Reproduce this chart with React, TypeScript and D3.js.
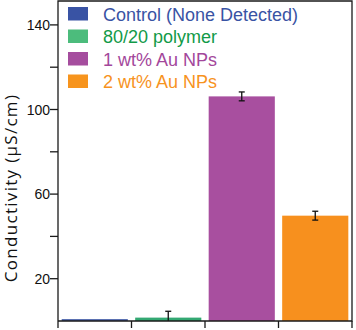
import React from 'react'
import * as d3 from 'd3'

const categories = ['Control (None Detected)', '80/20 polymer', '1 wt% Au NPs', '2 wt% Au NPs']
const values = [0.9, 1.6, 106.2, 49.8]
const errors = [0, 3.0, 2.1, 2.1]
const barColors = ['#4a63ab', '#33a872', '#a84f9f', '#f7901e']
const swatchColors = ['#3953a4', '#4cbc7c', '#a54d9e', '#f7941d']
const textColors = ['#3953a4', '#129a48', '#a3479b', '#f7931e']
const yTicks = [20, 40, 60, 80, 100, 120, 140]
const yLabels = [20, 60, 100, 140]

const W = 356
const H = 330
const margin = { left: 58, right: 4, top: 1, bottom: 9 }

export default function App() {
  const x = d3.scaleBand<string>()
    .domain(categories)
    .range([margin.left, W - margin.right])
    .paddingInner(0.1)
    .paddingOuter(0.05)

  const y = d3.scaleLinear()
    .domain([0, 151.3])
    .range([H - margin.bottom, margin.top])

  const bottom = y(0)
  const right = W - margin.right
  const xEdges = categories.map(c => x(c)! - x.step() * x.paddingInner() / 2)
  xEdges[0] = margin.left
  xEdges.push(right)

  return (
    <svg width={W} height={H} style={{ position: 'absolute', left: 0, top: 0 }}
      fontFamily="'Liberation Sans', Arial, sans-serif">
      <rect width={W} height={H} fill="#fff" />

      {categories.map((c, i) => (
        <rect key={c} x={x(c)} width={x.bandwidth()} y={y(values[i])}
          height={bottom - y(values[i])} fill={barColors[i]} />
      ))}

      {categories.map((c, i) => errors[i] > 0 && (
        <g key={c} stroke="#111" strokeWidth={1.3}>
          <line x1={x(c)! + x.bandwidth() / 2} x2={x(c)! + x.bandwidth() / 2}
            y1={y(values[i] + errors[i])} y2={y(Math.max(values[i] - errors[i], 0))} />
          <line x1={x(c)! + x.bandwidth() / 2 - 3} x2={x(c)! + x.bandwidth() / 2 + 3}
            y1={y(values[i] + errors[i])} y2={y(values[i] + errors[i])} />
          {values[i] - errors[i] > 0 && (
            <line x1={x(c)! + x.bandwidth() / 2 - 3} x2={x(c)! + x.bandwidth() / 2 + 3}
              y1={y(values[i] - errors[i])} y2={y(values[i] - errors[i])} />
          )}
        </g>
      ))}

      <g stroke="#1a1a1a" strokeWidth={1.3} fill="none">
        <path d={`M${margin.left},${bottom}V${margin.top}H${right}V${bottom}H${margin.left}`} />
        {yTicks.map(t => (
          <line key={t} x1={margin.left - 8} x2={margin.left} y1={y(t)} y2={y(t)} />
        ))}
        {xEdges.map((e, i) => (
          <line key={i} x1={e} x2={e} y1={bottom} y2={bottom + 7} />
        ))}
      </g>

      {yLabels.map(t => (
        <text key={t} x={margin.left - 8} y={y(t)} dy="0.36em" textAnchor="end"
          fontSize={14} fill="#111">{t}</text>
      ))}

      <text transform={`translate(17,${188}) rotate(-90)`} textAnchor="middle"
        fontFamily="'Open Sans', sans-serif" fontSize={17} letterSpacing={1.3} fill="#111">
        Conductivity (µS/cm)
      </text>

      {categories.map((c, i) => (
        <g key={c} transform={`translate(68,${7 + i * 22.5})`}>
          <rect width={20} height={13.5} fill={swatchColors[i]} />
          <text x={35} y={13.5} fontSize={18} fill={textColors[i]}>{c}</text>
        </g>
      ))}
    </svg>
  )
}
